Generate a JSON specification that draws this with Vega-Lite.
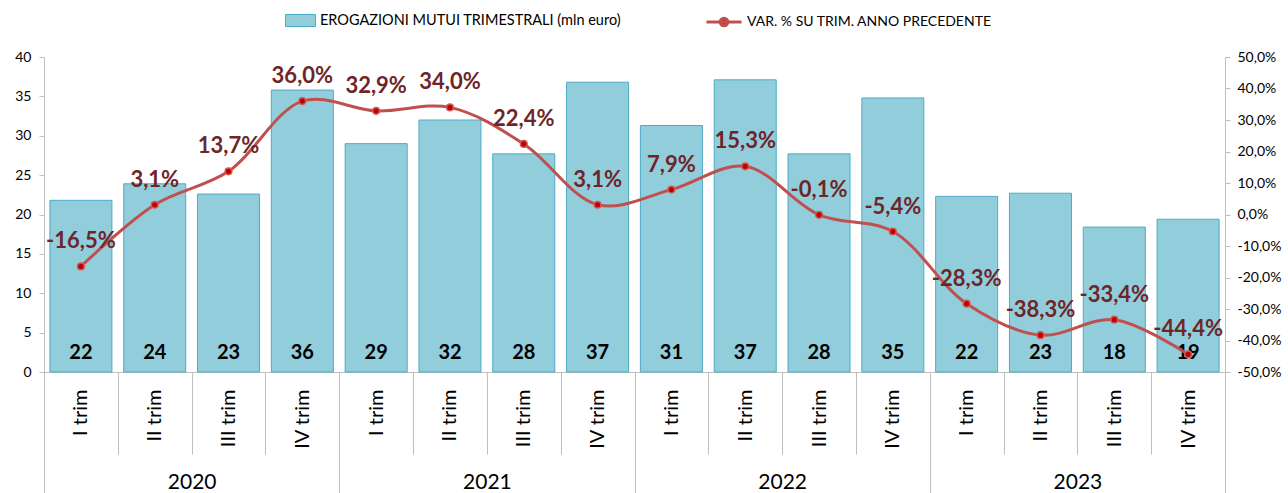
{
  "$schema": "https://vega.github.io/schema/vega-lite/v6.json",
  "width": 1181,
  "height": 315,
  "autosize": {"type": "none"},
  "padding": {"left": 44, "top": 57, "right": 63, "bottom": 121},
  "config": {
    "view": {"stroke": null},
    "font": "Lato",
    "locale": {"number": {"decimal": ",", "thousands": ".", "grouping": [3], "currency": ["", "€"], "minus": "-"}},
    "axis": {"labelFont": "Lato", "labelColor": "#000000", "grid": false, "title": null}
  },
  "data": {
    "values": [
      {"key": "2020|I trim", "year": "2020", "value": 21.8, "pct": -0.165},
      {"key": "2020|II trim", "year": "2020", "value": 23.9, "pct": 0.031},
      {"key": "2020|III trim", "year": "2020", "value": 22.6, "pct": 0.137},
      {"key": "2020|IV trim", "year": "2020", "value": 35.8, "pct": 0.360},
      {"key": "2021|I trim", "year": "2021", "value": 29.0, "pct": 0.329},
      {"key": "2021|II trim", "year": "2021", "value": 32.0, "pct": 0.340},
      {"key": "2021|III trim", "year": "2021", "value": 27.7, "pct": 0.224},
      {"key": "2021|IV trim", "year": "2021", "value": 36.8, "pct": 0.031},
      {"key": "2022|I trim", "year": "2022", "value": 31.3, "pct": 0.079},
      {"key": "2022|II trim", "year": "2022", "value": 37.1, "pct": 0.153},
      {"key": "2022|III trim", "year": "2022", "value": 27.7, "pct": -0.001},
      {"key": "2022|IV trim", "year": "2022", "value": 34.8, "pct": -0.054},
      {"key": "2023|I trim", "year": "2023", "value": 22.3, "pct": -0.283},
      {"key": "2023|II trim", "year": "2023", "value": 22.7, "pct": -0.383},
      {"key": "2023|III trim", "year": "2023", "value": 18.4, "pct": -0.334},
      {"key": "2023|IV trim", "year": "2023", "value": 19.4, "pct": -0.444}
    ]
  },
  "layer": [
    {
      "mark": {"type": "bar", "width": {"band": 0.84}, "stroke": "#4bacc6", "strokeWidth": 1},
      "encoding": {
        "x": {"field": "key", "type": "nominal", "sort": null,
          "scale": {"type": "band", "paddingInner": 0, "paddingOuter": 0},
          "axis": {"orient": "bottom", "labelExpr": "split(datum.value,'|')[1]", "labelAngle": -90, "labelAlign": "right", "labelBaseline": "middle",
            "labelFontSize": 20, "labelPadding": -65, "tickBand": "extent", "tickSize": 82, "tickColor": "#bfbfbf", "domainColor": "#bfbfbf", "labelOverlap": false}},
        "y": {"field": "value", "type": "quantitative", "scale": {"domain": [0, 40], "nice": false},
          "axis": {"values": [0, 5, 10, 15, 20, 25, 30, 35, 40], "tickSize": 5, "labelPadding": 8, "labelFontSize": 14, "domainColor": "#bfbfbf", "tickColor": "#bfbfbf"}},
        "fill": {"datum": "EROGAZIONI MUTUI TRIMESTRALI (mln euro)", "scale": {"range": ["#92cddc"]},
          "legend": {"orient": "none", "legendX": 241, "legendY": -52, "title": null, "padding": 0, "labelLimit": 0,
            "symbolType": "M-1,-0.4H1V0.4H-1Z", "symbolSize": 900, "symbolStrokeColor": "#4bacc6", "symbolStrokeWidth": 1,
            "labelFontSize": 14.5, "labelFont": "Lato", "labelColor": "#000000", "labelOffset": 4}}
      }
    },
    {
      "mark": {"type": "text", "fontWeight": "bold", "fontSize": 20, "color": "#000000", "dy": -19, "baseline": "middle"},
      "encoding": {
        "x": {"field": "key", "type": "nominal", "sort": null, "scale": {"type": "band", "paddingInner": 0, "paddingOuter": 0}, "axis": null},
        "y": {"datum": 0, "type": "quantitative", "scale": {"domain": [0, 40], "nice": false}, "axis": null},
        "text": {"field": "value", "type": "quantitative", "format": ".0f"}
      }
    },
    {
      "mark": {"type": "line", "interpolate": "catmull-rom", "strokeWidth": 3},
      "encoding": {
        "x": {"field": "key", "type": "nominal", "sort": null, "scale": {"type": "band", "paddingInner": 0, "paddingOuter": 0}, "axis": null},
        "y": {"field": "pct", "type": "quantitative", "scale": {"domain": [-0.5, 0.5], "nice": false},
          "axis": {"orient": "right", "values": [-0.5, -0.4, -0.3, -0.2, -0.1, 0, 0.1, 0.2, 0.3, 0.4, 0.5], "format": ".1%", "tickSize": 5, "labelPadding": 7, "labelFontSize": 14, "domainColor": "#bfbfbf", "tickColor": "#bfbfbf"}},
        "stroke": {"datum": "VAR. % SU TRIM. ANNO PRECEDENTE", "scale": {"range": ["#c0504d"]},
          "legend": {"orient": "none", "legendX": 661, "legendY": -54, "title": null, "padding": 0, "labelLimit": 0,
            "symbolType": "M-1,0L1,0M-0.22,0A0.22,0.22,0,1,0,0.22,0A0.22,0.22,0,1,0,-0.22,0", "symbolSize": 1225, "symbolStrokeWidth": 3,
            "labelFontSize": 14, "labelFont": "Lato", "labelColor": "#000000", "labelOffset": 4,
            "encode": {"symbols": {"update": {"fill": {"value": "#c0282d"}, "stroke": {"value": "#c0504d"}}}}}}
      }
    },
    {
      "mark": {"type": "point", "filled": true, "size": 45, "fill": "#c00000", "stroke": "#d05a56", "strokeWidth": 1.5, "opacity": 1},
      "encoding": {
        "x": {"field": "key", "type": "nominal", "sort": null, "scale": {"type": "band", "paddingInner": 0, "paddingOuter": 0}, "axis": null},
        "y": {"field": "pct", "type": "quantitative", "scale": {"domain": [-0.5, 0.5], "nice": false}, "axis": null}
      }
    },
    {
      "mark": {"type": "text", "fontWeight": "bold", "fontSize": 22, "color": "#6e2527", "dy": -25, "baseline": "middle"},
      "encoding": {
        "x": {"field": "key", "type": "nominal", "sort": null, "scale": {"type": "band", "paddingInner": 0, "paddingOuter": 0}, "axis": null},
        "y": {"field": "pct", "type": "quantitative", "scale": {"domain": [-0.5, 0.5], "nice": false}, "axis": null},
        "text": {"field": "pct", "type": "quantitative", "format": ".1%"}
      }
    },
    {
      "mark": {"type": "tick", "opacity": 0},
      "encoding": {
        "x": {"field": "year", "type": "nominal", "sort": null, "scale": {"type": "band", "paddingInner": 0, "paddingOuter": 0},
          "axis": {"orient": "bottom", "labelAngle": 0, "labelFontSize": 21, "labelPadding": -22, "labelBaseline": "top", "tickBand": "extent", "tickSize": 121, "tickColor": "#bfbfbf", "domain": false}}
      }
    }
  ],
  "resolve": {"scale": {"x": "independent", "y": "independent"}}
}
